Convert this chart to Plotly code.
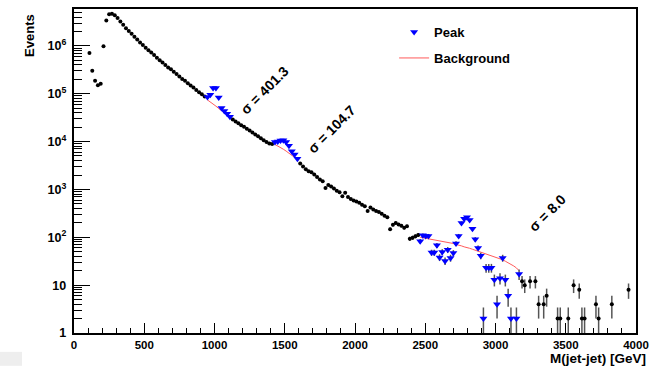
import numpy as np
import plotly.graph_objects as go

# ---------------- data ----------------
# black histogram points (bin centres in GeV, events)
mass_a = [110, 130, 150, 170, 190, 210, 230, 250, 270, 290, 310, 330, 350, 370, 390,
          410, 430, 450, 470, 490, 510, 530, 550, 570, 590, 610, 630, 650, 670, 690,
          710, 730, 750, 770, 790, 810, 830, 850, 870, 890, 910, 930]
events_a = [708000, 302000, 186000, 151000, 162000, 977000, 3390000, 4570000, 4680000,
            4370000, 3800000, 3240000, 2750000, 2340000, 2040000, 1780000, 1550000,
            1350000, 1175000, 1047000, 912000, 813000, 724000, 646000, 562000, 501000,
            447000, 398000, 355000, 324000, 288000, 257000, 229000, 204000, 186000,
            166000, 148000, 135000, 120000, 107000, 97700, 87100]

mass_b = [1130, 1150, 1170, 1190, 1210, 1230, 1250, 1270, 1290, 1310, 1330, 1350, 1370,
          1390, 1410]
events_b = [28800, 26300, 24000, 21900, 20400, 18600, 17000, 15500, 14100, 12900, 11700,
            10700, 9770, 9120, 8910]

mass_c = [1610, 1630, 1650, 1670, 1690, 1710, 1730, 1750, 1770, 1790,
          1810, 1830, 1850, 1870, 1890, 1910, 1930, 1950, 1970, 1990,
          2010, 2030, 2050, 2070, 2090, 2110, 2130, 2150, 2170, 2190,
          2210, 2230, 2250, 2270, 2290, 2310, 2330, 2350, 2370, 2390,
          2410, 2430, 2450]
events_c = [3470, 3020, 2630, 2400, 2290, 2040, 1820, 1620, 1480, 1070,
            1230, 1150, 1050, 933, 871, 724, 851, 692, 631, 589,
            562, 525, 479, 447, 355, 417, 380, 355, 339, 309,
            282, 263, 148, 182, 200, 186, 174, 158, 170, 93,
            98, 105, 112]

mass_d = [3189, 3208, 3246, 3284, 3307, 3343, 3364, 3442, 3461, 3518, 3556, 3596, 3615,
          3634, 3715, 3734, 3828, 3947]
events_d = [12, 10, 12, 12, 4, 4, 6, 2, 2, 2, 10, 8, 2, 2, 4, 2, 4, 8]

# peak regions (blue) and fitted background (red)
peak1_mass = [950, 970, 990, 1010, 1030, 1050, 1070, 1090, 1110]
peak1_events = [85100, 95500, 132000, 132000, 83200, 50100, 43700, 38000, 33100]
bkg1_events = [74100, 67600, 60300, 55000, 49000, 44700, 39800, 36300, 32400]

peak2_mass = [1430, 1450, 1470, 1490, 1510, 1530, 1550, 1570, 1590]
peak2_events = [9770, 10000, 10500, 10700, 9770, 8130, 6310, 5370, 4370]
bkg2_events = [8710, 8130, 7590, 6920, 6310, 5750, 5250, 4680, 4170]

peak3_mass = [2464, 2483, 2503, 2523, 2545, 2564, 2583, 2602, 2621, 2641, 2660, 2680,
              2700, 2719, 2738, 2758, 2777, 2797, 2816, 2836, 2856, 2876, 2895, 2914,
              2933, 2952, 2971, 2992, 3011, 3032, 3051, 3070, 3090, 3110, 3149, 3168]
peak3_events = [83, 110, 107, 107, 48, 48, 68, 38, 49, 32, 55, 37,
                47, 74, 107, 200, 245, 263, 229, 151, 91, 60, 41, 2,
                23, 23, 23, 13, 4, 14, 37, 13, 6, 2, 2, 17]
bkg3_mass = [2464, 2483, 2503, 2523, 2545, 2564, 2583, 2602, 2621, 2641, 2660, 2680,
             2700, 2719, 2738, 2758, 2777, 2797, 2816, 2836, 2856, 2876, 2895, 2914,
             2933, 2952, 2971, 2992, 3011, 3032, 3051, 3070, 3090, 3110, 3130, 3149, 3168]
bkg3_events = [100, 97.7, 95.5, 93.3, 91.2, 89.1, 87.1, 85.1, 83.2, 81.3, 79.4, 75.9,
               74.1, 70.8, 69.2, 66.1, 63.1, 61.7, 58.9, 56.2, 53.7, 51.3, 49.0, 46.8,
               44.7, 42.7, 40.7, 38.9, 37.2, 35.5, 33.9, 31.6, 29.5, 27.5, 25.1, 22.9, 20.0]

sigma_texts = ["σ = 401.3", "σ = 104.7", "σ = 8.0"]
sigma_mass = [1357, 1834, 3369]
sigma_log_events = [5.08, 4.27, 2.50]

# ---------------- figure ----------------
FONT = "Liberation Sans"
ERR_COLOR = "#555555"

black_x = mass_a + mass_b + mass_c + mass_d
black_y = events_a + events_b + events_c + events_d
peak_x = peak1_mass + peak2_mass + peak3_mass
peak_y = peak1_events + peak2_events + peak3_events

fig = go.Figure()

fig.add_trace(go.Scatter(
    x=black_x, y=black_y, mode="markers",
    marker=dict(color="black", size=4),
    error_y=dict(type="data", array=np.sqrt(black_y).tolist(), color=ERR_COLOR,
                 thickness=1.5, width=0),
    showlegend=False, hoverinfo="x+y"))

# background segments
bkg_sets = [(peak1_mass, bkg1_events), (peak2_mass, bkg2_events), (bkg3_mass, bkg3_events)]
for i, (bx, by) in enumerate(bkg_sets):
    fig.add_trace(go.Scatter(
        x=bx, y=by, mode="lines", name="Background",
        line=dict(color="#ff5a5a", width=1),
        legendgroup="bkg", showlegend=(i == 0), legendrank=2))

fig.add_trace(go.Scatter(
    x=peak_x, y=peak_y, mode="markers", name="Peak",
    marker=dict(color="#0000ff", size=7, symbol="triangle-down"),
    error_y=dict(type="data", array=np.sqrt(peak_y).tolist(), color=ERR_COLOR,
                 thickness=1.5, width=0),
    legendgroup="peak", legendrank=1))

for t, xm, ly in zip(sigma_texts, sigma_mass, sigma_log_events):
    fig.add_annotation(x=xm, y=ly, xref="x", yref="y", text=t, showarrow=False,
                       textangle=-45, font=dict(family=FONT, size=14, color="black",
                                                weight="bold"))

fig.add_annotation(x=-0.078, y=0.99, xref="paper", yref="paper", text="Events",
                   textangle=-90, showarrow=False, xanchor="center", yanchor="top",
                   font=dict(family=FONT, size=13, color="black", weight="bold"))
fig.add_annotation(x=1.021, y=-0.049, xref="paper", yref="paper", text="M(jet-jet) [GeV]",
                   showarrow=False, xanchor="right", yanchor="top",
                   font=dict(family=FONT, size=13.5, color="black", weight="bold"))

fig.add_shape(type="rect", xref="paper", yref="paper", x0=-0.1317, x1=-0.0925,
              y0=-0.1012, y1=-0.0583, line=dict(width=0), fillcolor="#eeeeee")

fig.update_layout(
    width=656, height=366,
    margin=dict(l=74, r=20, t=7, b=33),
    paper_bgcolor="white", plot_bgcolor="white",
    font=dict(family=FONT, color="black"),
    legend=dict(x=0.5696, y=0.975, xanchor="left", yanchor="top",
                bgcolor="rgba(0,0,0,0)", borderwidth=0, tracegroupgap=6,
                font=dict(family=FONT, size=13, color="black", weight="bold")),
    xaxis=dict(range=[0, 4000], dtick=500, tick0=0, ticks="inside", ticklen=10,
               tickcolor="black", showline=True, linecolor="black", linewidth=1.5,
               mirror=True, showgrid=False, zeroline=False, ticklabelstandoff=0,
               tickfont=dict(family=FONT, size=11.5, color="black", weight="bold"),
               minor=dict(ticks="inside", ticklen=5, dtick=100, tickcolor="black",
                          showgrid=False)),
    yaxis=dict(type="log", range=[0, 6.77], dtick=1, ticks="inside", ticklen=16,
               tickcolor="black", exponentformat="power", showline=True,
               linecolor="black", linewidth=1.5, mirror=True, showgrid=False,
               zeroline=False, ticklabelstandoff=4,
               tickfont=dict(family=FONT, size=10, color="black", weight="bold"),
               minor=dict(ticks="inside", ticklen=8, dtick="D1", tickcolor="black",
                          showgrid=False)),
)

fig.write_html("out.html", config={"displayModeBar": False},
               post_script="document.body.style.margin='0';document.body.style.padding='0';")
